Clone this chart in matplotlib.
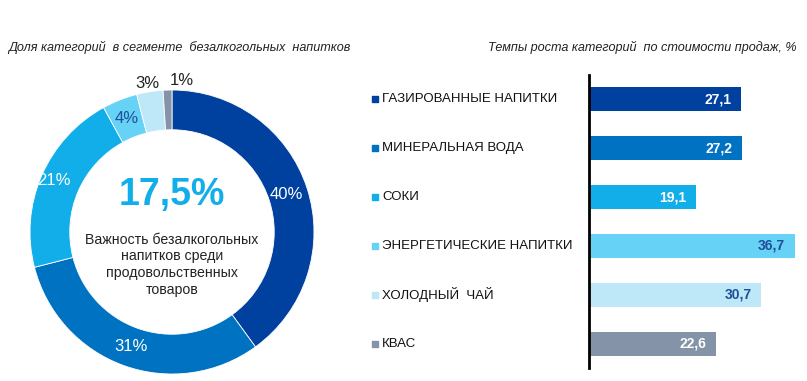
import matplotlib
matplotlib.use("Agg")
import matplotlib.pyplot as plt
import matplotlib.transforms as mtransforms
import numpy as np

plt.rcParams['font.family'] = ['Liberation Sans', 'DejaVu Sans']

# ---- data ----
share_values = [40, 31, 21, 4, 3, 1]
share_labels = ["40%", "31%", "21%", "4%", "3%", "1%"]
categories = ["ГАЗИРОВАННЫЕ НАПИТКИ", "МИНЕРАЛЬНАЯ ВОДА", "СОКИ",
              "ЭНЕРГЕТИЧЕСКИЕ НАПИТКИ", "ХОЛОДНЫЙ  ЧАЙ", "КВАС"]
growth_values = [27.1, 27.2, 19.1, 36.7, 30.7, 22.6]
growth_labels = ["27,1", "27,2", "19,1", "36,7", "30,7", "22,6"]
center_value = "17,5%"
center_text = "Важность безалкогольных\nнапитков среди\nпродовольственных\nтоваров"
title_left = "Доля категорий  в сегменте  безалкогольных  напитков"
title_right = "Темпы роста категорий  по стоимости продаж, %"

colors = ["#0041A0", "#0072C2", "#12AEEA", "#66D2F6", "#BEE8F8", "#8493A8"]
pie_label_colors = ["white", "white", "white", "#1F4E9A", "#222222", "#222222"]
pie_label_dist = [0.85, 0.86, 0.91, 0.86, 1.06, 1.07]
pie_label_shift = [0, 0, 0, 0, -0.01, 0.1]
bar_label_colors = ["white", "white", "white", "#1F4E9A", "#1F4E9A", "white"]

W, H = 807, 381
fig = plt.figure(figsize=(W / 100, H / 100), dpi=100)

def fx(px):
    return px / W

def fy(py):
    return 1 - py / H

# ---- titles ----
fig.text(fx(8), fy(47), title_left, fontsize=9.1, style='italic', color='#222222',
         ha='left', va='center')
fig.text(fx(797), fy(47), title_right, fontsize=9.1, style='italic', color='#222222',
         ha='right', va='center')

# ---- donut ----
cx, cy, R = 172, 232, 142
axp = fig.add_axes([fx(cx - R), fy(cy + R), 2 * R / W, 2 * R / H])
wedges, _ = axp.pie(share_values, colors=colors, startangle=90, counterclock=False,
                    radius=1.0, wedgeprops=dict(width=0.28, edgecolor='white', linewidth=0.6))
axp.set_xlim(-1, 1)
axp.set_ylim(-1, 1)
axp.axis('off')
for w, lab, col, d, sh in zip(wedges, share_labels, pie_label_colors, pie_label_dist,
                              pie_label_shift):
    ang = np.deg2rad((w.theta1 + w.theta2) / 2)
    axp.text(d * np.cos(ang) + sh, d * np.sin(ang), lab, ha='center', va='center',
             fontsize=12, color=col, clip_on=False)
axp.text(0, 0.26, center_value, ha='center', va='center', fontsize=27,
         fontweight='bold', color='#12AEEA')
axp.text(0, -0.23, center_text, ha='center', va='center', fontsize=10.2,
         color='#222222', linespacing=1.25)

# ---- bars ----
x0, x1 = 589, 807
ytop, ybot = 75, 368
scale = (795 - 589) / 36.7
axb = fig.add_axes([fx(x0), fy(ybot), (x1 - x0) / W, (ybot - ytop) / H])
ypos = np.arange(len(categories))
axb.barh(ypos, growth_values, height=0.49, color=colors)
axb.set_xlim(0, (x1 - x0) / scale)
axb.set_ylim(len(categories) - 0.5, -0.5)
for s in ['top', 'right', 'bottom']:
    axb.spines[s].set_visible(False)
axb.spines['left'].set_linewidth(2)
axb.spines['left'].set_color('black')
axb.set_xticks([])
axb.set_yticks([])
for y, v, lab, col in zip(ypos, growth_values, growth_labels, bar_label_colors):
    axb.annotate(lab, (v, y), xytext=(-7, 0), textcoords='offset points',
                 ha='right', va='center', fontsize=10, fontweight='bold', color=col)

trans = mtransforms.blended_transform_factory(fig.transFigure, axb.transData)
for y, cat, col in zip(ypos, categories, colors):
    axb.scatter([fx(375)], [y], marker='s', s=16, color=col, transform=trans, clip_on=False)
    axb.text(fx(382), y, cat, transform=trans, ha='left', va='center', fontsize=9.5,
             color='#111111')

fig.savefig("out.png", dpi=100)
